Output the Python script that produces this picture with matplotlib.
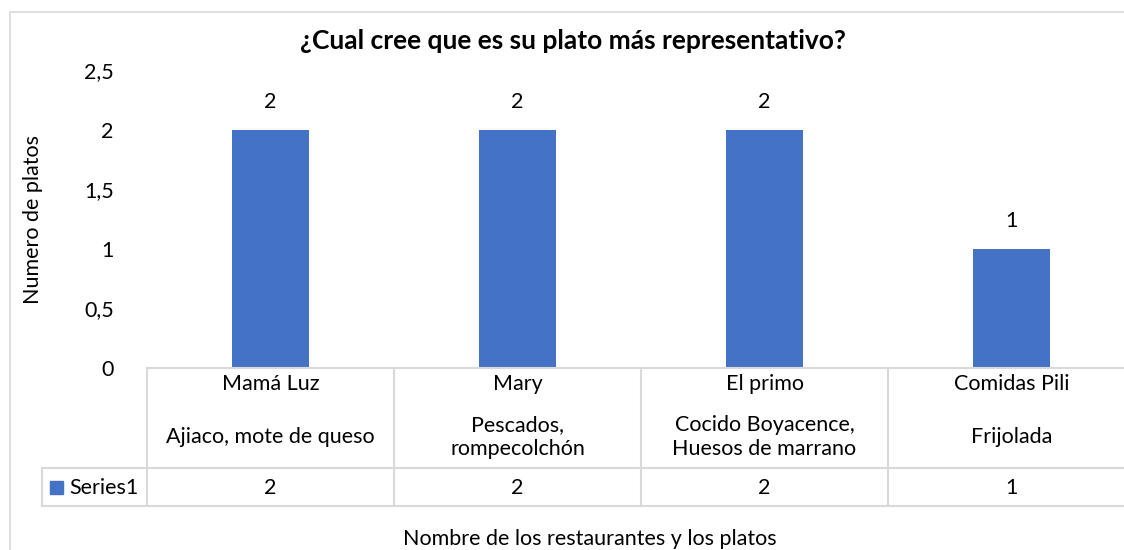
import matplotlib.pyplot as plt
import matplotlib.patches as patches

plt.rcParams['font.family'] = ['Lato', 'DejaVu Sans']

restaurantes = ['Mamá Luz', 'Mary', 'El primo', 'Comidas Pili']
platos = ['Ajiaco, mote de queso', 'Pescados,\nrompecolchón',
          'Cocido Boyacence,\nHuesos de marrano', 'Frijolada']
valores = [2, 2, 2, 1]
y_ticks = [0, 0.5, 1, 1.5, 2, 2.5]
serie = 'Series1'

W, H = 1124, 550
BLUE = '#4472C4'
GRID = '#d9d9d9'
FS = 15.5

fig = plt.figure(figsize=(W / 100, H / 100), dpi=100)


def fx(px):
    return px / W


def fy(py):
    return 1 - py / H


# chart frame
fig.patches.append(patches.Rectangle((fx(10), fy(560)), fx(1130), fy(12) - fy(560),
                                     transform=fig.transFigure, fill=False,
                                     ec=GRID, lw=1.2))

ax_left, ax_right = 147, 1135
ax_bottom, ax_top = 368, 70.5
ax = fig.add_axes([fx(ax_left), fy(ax_bottom), fx(ax_right - ax_left), fy(ax_top) - fy(ax_bottom)])

x = range(len(valores))
ax.bar(x, valores, width=0.31, color=BLUE)
for xi, v in zip(x, valores):
    ax.annotate(str(v), (xi, v), xytext=(0, 13), textcoords='offset points',
                ha='center', va='bottom', fontsize=FS, color='#000000')

ax.set_xlim(-0.5, len(valores) - 0.5)
ax.set_ylim(0, 2.5)
ax.set_yticks(y_ticks)
ax.set_yticklabels([f'{t:g}'.replace('.', ',') for t in y_ticks], fontsize=FS)
ax.tick_params(axis='y', length=0, pad=24)
ax.set_xticks([])
for s in ax.spines.values():
    s.set_visible(False)

# data table
row1_bot, row2_bot = 468, 506
col_w = (ax_right - ax_left) / len(valores)
line_kw = dict(color=GRID, lw=1.5, transform=fig.transFigure, clip_on=False)
fig.add_artist(plt.Line2D([fx(ax_left), fx(ax_right)], [fy(ax_bottom)] * 2, **line_kw))
for yy in (row1_bot, row2_bot):
    fig.add_artist(plt.Line2D([fx(42), fx(ax_right)], [fy(yy)] * 2, **line_kw))
fig.add_artist(plt.Line2D([fx(42)] * 2, [fy(row1_bot), fy(row2_bot)], **line_kw))
for i in range(len(valores) + 1):
    cx = ax_left + i * col_w
    fig.add_artist(plt.Line2D([fx(cx)] * 2, [fy(ax_bottom), fy(row2_bot)], **line_kw))

for i, (r, p, v) in enumerate(zip(restaurantes, platos, valores)):
    cx = ax_left + (i + 0.5) * col_w
    fig.text(fx(cx), fy(384), r, ha='center', va='center', fontsize=FS)
    fig.text(fx(cx), fy(437), p, ha='center', va='center', fontsize=FS, linespacing=1.2)
    fig.text(fx(cx), fy(488), str(v), ha='center', va='center', fontsize=FS)

fig.patches.append(patches.Rectangle((fx(50), fy(494)), fx(13), fy(481) - fy(494),
                                     transform=fig.transFigure, color=BLUE))
fig.text(fx(69), fy(488), serie, ha='left', va='center', fontsize=FS)

fig.text(fx(573), fy(41), '¿Cual cree que es su plato más representativo?',
         ha='center', va='center', fontsize=19, fontweight='bold')
fig.text(fx(33), fy(220), 'Numero de platos', ha='center', va='center',
         rotation=90, fontsize=FS)
fig.text(fx(590), fy(539), 'Nombre de los restaurantes y los platos',
         ha='center', va='center', fontsize=FS)

fig.savefig('out.png', dpi=100)
